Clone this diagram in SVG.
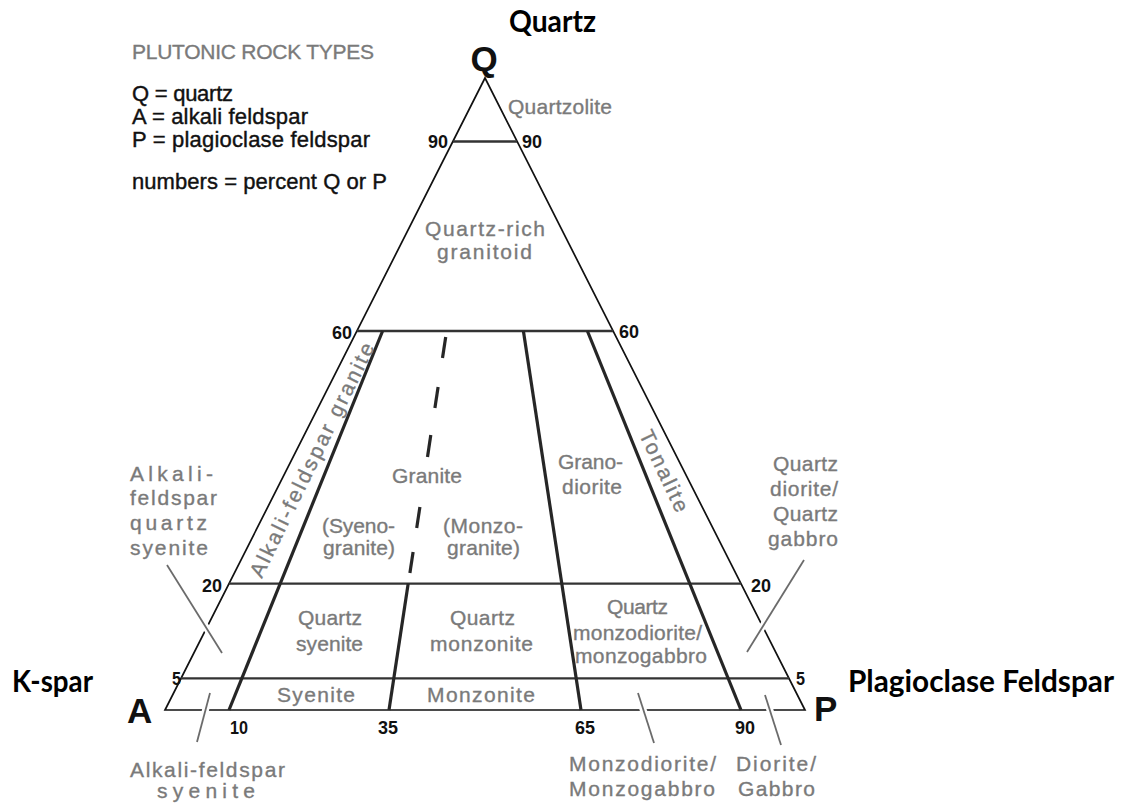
<svg xmlns="http://www.w3.org/2000/svg" width="1128" height="803" viewBox="0 0 1128 803">
<style>
.lbl{font-family:"Liberation Sans",Arial,sans-serif;font-size:21px;fill:#7a7a7a;stroke:#7a7a7a;stroke-width:0.35}
.num{font-family:"Liberation Sans",Arial,sans-serif;font-size:19px;font-weight:bold;fill:#111}
.leg{font-family:"Liberation Sans",Arial,sans-serif;font-size:22px;fill:#111;stroke:#111;stroke-width:0.4}
.corner{font-family:"Liberation Sans",Arial,sans-serif;font-size:35px;font-weight:bold;fill:#111}
.big{font-family:Lato,"Liberation Sans",sans-serif;font-size:30px;font-weight:bold;fill:#000}
.edge{fill:none;stroke:#111;stroke-width:1.7;stroke-linejoin:miter}
.hline{stroke:#333;stroke-width:2.4;fill:none}
.bound{stroke:#262626;stroke-width:3.2;fill:none;stroke-linecap:butt}
.lead{stroke:#6b6b6b;stroke-width:1.8;fill:none}
.gap{stroke:#fff;stroke-width:7;fill:none}
</style>
<rect width="1128" height="803" fill="#fff"/>

<g id="titles">
<text class="big" x="509" y="32" textLength="87" lengthAdjust="spacingAndGlyphs">Quartz</text>
<text class="big" x="12" y="692" textLength="81" lengthAdjust="spacingAndGlyphs">K-spar</text>
<text class="big" x="848" y="692" textLength="266" lengthAdjust="spacingAndGlyphs">Plagioclase Feldspar</text>
</g>

<g id="legend">
<text class="lbl" x="132" y="59" textLength="242" font-size="20">PLUTONIC ROCK TYPES</text>
<text class="leg" x="132" y="101" textLength="101">Q = quartz</text>
<text class="leg" x="132" y="124" textLength="176">A = alkali feldspar</text>
<text class="leg" x="132" y="147" textLength="238">P = plagioclase feldspar</text>
<text class="leg" x="132" y="189" textLength="255">numbers = percent Q or P</text>
</g>

<g id="connectors">
<polygon class="edge" points="485,78 805,710 165,710"/>
<line class="hline" x1="453" y1="141.5" x2="517" y2="141.5"/>
<line class="hline" x1="357" y1="331" x2="613" y2="331"/>
<line class="hline" x1="229" y1="583.6" x2="741" y2="583.6"/>
<line class="hline" x1="181" y1="678.4" x2="789" y2="678.4"/>
<line class="bound" x1="229" y1="710" x2="382.6" y2="331"/>
<line class="bound" x1="389" y1="710" x2="408.2" y2="583.6"/>
<line class="bound" x1="581" y1="710" x2="523.4" y2="331"/>
<line class="bound" x1="741" y1="710" x2="587.4" y2="331"/>
<g class="bound">
<line x1="445.7" y1="337" x2="442.5" y2="358"/>
<line x1="438.1" y1="387" x2="434.9" y2="408"/>
<line x1="430.8" y1="435" x2="427.5" y2="457"/>
<line x1="419.9" y1="507" x2="416.7" y2="528"/>
<line x1="413.1" y1="552" x2="409.9" y2="573"/>
</g>
<line class="gap" x1="202" y1="621" x2="211" y2="635"/>
<line class="gap" x1="767" y1="619" x2="758" y2="634"/>
<line class="gap" x1="207" y1="703" x2="204" y2="717"/>
<line class="gap" x1="641" y1="703" x2="645.5" y2="717"/>
<line class="gap" x1="767.8" y1="703" x2="772" y2="717"/>
<line class="lead" x1="167" y1="565" x2="222" y2="653"/>
<line class="lead" x1="804" y1="560" x2="747" y2="652"/>
<line class="lead" x1="210" y1="693" x2="197" y2="742"/>
<line class="lead" x1="638" y1="693" x2="654" y2="743"/>
<line class="lead" x1="765" y1="695" x2="781" y2="745"/>
</g>

<g id="corners">
<text class="corner" x="484" y="71" text-anchor="middle">Q</text>
<text class="corner" x="127" y="723">A</text>
<text class="corner" x="814" y="721">P</text>
</g>

<g id="numbers">
<text class="num" x="428" y="148" textLength="20" lengthAdjust="spacingAndGlyphs">90</text>
<text class="num" x="522" y="148" textLength="20" lengthAdjust="spacingAndGlyphs">90</text>
<text class="num" x="332" y="339" textLength="20" lengthAdjust="spacingAndGlyphs">60</text>
<text class="num" x="619" y="338" textLength="20" lengthAdjust="spacingAndGlyphs">60</text>
<text class="num" x="202" y="592" textLength="20" lengthAdjust="spacingAndGlyphs">20</text>
<text class="num" x="751" y="592" textLength="20" lengthAdjust="spacingAndGlyphs">20</text>
<text class="num" x="172" y="685" textLength="9" lengthAdjust="spacingAndGlyphs">5</text>
<text class="num" x="796" y="685" textLength="9" lengthAdjust="spacingAndGlyphs">5</text>
<text class="num" x="230" y="734" textLength="18" lengthAdjust="spacingAndGlyphs">10</text>
<text class="num" x="378" y="734" textLength="20" lengthAdjust="spacingAndGlyphs">35</text>
<text class="num" x="575" y="734" textLength="20" lengthAdjust="spacingAndGlyphs">65</text>
<text class="num" x="735" y="734" textLength="20" lengthAdjust="spacingAndGlyphs">90</text>
</g>

<g id="quartzolite"><text class="lbl" x="508" y="114" textLength="104">Quartzolite</text></g>
<g id="quartz-rich-granitoid">
<text class="lbl" x="425" y="236" textLength="120">Quartz-rich</text>
<text class="lbl" x="437" y="259" textLength="95">granitoid</text>
</g>
<g id="alkali-feldspar-granite">
<text class="lbl" transform="translate(312,460) rotate(-64)" x="0" y="7" text-anchor="middle" textLength="258">Alkali-feldspar granite</text>
</g>
<g id="granite">
<text class="lbl" x="392" y="483" textLength="70">Granite</text>
<text class="lbl" x="322" y="533" textLength="73">(Syeno-</text>
<text class="lbl" x="323" y="555" textLength="72">granite)</text>
<text class="lbl" x="443" y="533" textLength="80">(Monzo-</text>
<text class="lbl" x="447" y="555" textLength="73">granite)</text>
</g>
<g id="granodiorite">
<text class="lbl" x="558" y="469" textLength="65">Grano-</text>
<text class="lbl" x="562" y="494" textLength="60">diorite</text>
</g>
<g id="tonalite">
<text class="lbl" transform="translate(664,471) rotate(64.5)" x="0" y="7" text-anchor="middle" textLength="88">Tonalite</text>
</g>
<g id="alkali-feldspar-quartz-syenite">
<text class="lbl" x="130" y="481" textLength="83">Alkali-</text>
<text class="lbl" x="130" y="505" textLength="87">feldspar</text>
<text class="lbl" x="130" y="530" textLength="77">quartz</text>
<text class="lbl" x="130" y="555" textLength="78">syenite</text>
</g>
<g id="quartz-diorite">
<text class="lbl" x="773" y="471" textLength="65">Quartz</text>
<text class="lbl" x="770" y="496" textLength="68">diorite/</text>
<text class="lbl" x="773" y="521" textLength="65">Quartz</text>
<text class="lbl" x="768" y="546" textLength="70">gabbro</text>
</g>
<g id="quartz-syenite">
<text class="lbl" x="298" y="625" textLength="64">Quartz</text>
<text class="lbl" x="296" y="651" textLength="67">syenite</text>
</g>
<g id="quartz-monzonite">
<text class="lbl" x="450" y="625" textLength="65">Quartz</text>
<text class="lbl" x="430" y="651" textLength="103">monzonite</text>
</g>
<g id="quartz-monzodiorite">
<text class="lbl" x="607" y="614" textLength="61">Quartz</text>
<text class="lbl" x="573" y="640" textLength="129">monzodiorite/</text>
<text class="lbl" x="575" y="663" textLength="132">monzogabbro</text>
</g>
<g id="syenite"><text class="lbl" x="277" y="702" textLength="78">Syenite</text></g>
<g id="monzonite"><text class="lbl" x="427" y="702" textLength="108">Monzonite</text></g>
<g id="alkali-feldspar-syenite">
<text class="lbl" x="130" y="777" textLength="155">Alkali-feldspar</text>
<text class="lbl" x="157" y="798" textLength="98">syenite</text>
</g>
<g id="monzodiorite">
<text class="lbl" x="569" y="771" textLength="147">Monzodiorite/</text>
<text class="lbl" x="569" y="796" textLength="146">Monzogabbro</text>
</g>
<g id="diorite">
<text class="lbl" x="736" y="771" textLength="80">Diorite/</text>
<text class="lbl" x="738" y="796" textLength="77">Gabbro</text>
</g>
</svg>
